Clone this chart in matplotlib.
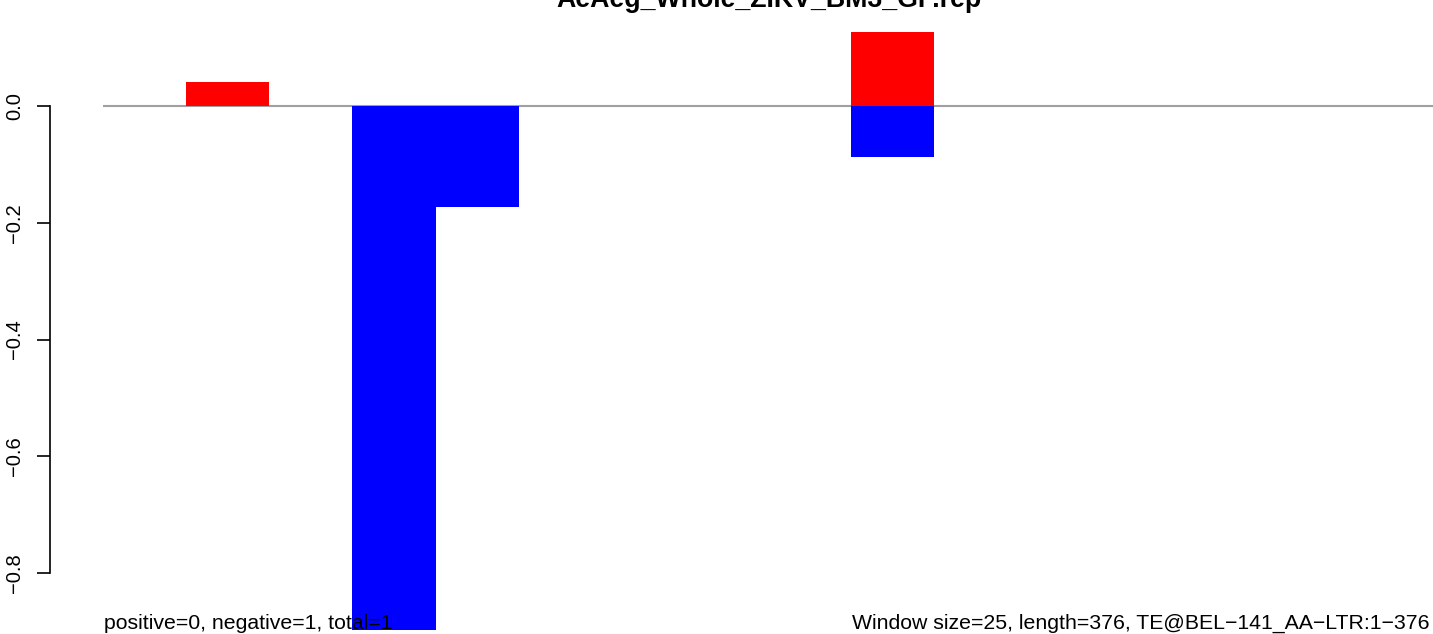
import matplotlib
matplotlib.use("Agg")
import matplotlib.pyplot as plt

# ---- data ----
window_starts = [25, 75, 100, 225]          # window start positions (window size 25)
pos_values = [0.041, 0.0, 0.0, 0.127]        # positive strand score
neg_values = [0.0, -0.95, -0.173, -0.087]    # negative strand score
window_size = 25
seq_extent = 400
yticks = [-0.8, -0.6, -0.4, -0.2, 0.0]
title = "AeAeg_Whole_ZIKV_BM3_GP.rep"
left_note = "positive=0, negative=1, total=1"
right_note = "Window size=25, length=376, TE@BEL\u2212141_AA\u2212LTR:1\u2212376"

plt.rcParams["font.family"] = ["Liberation Sans", "DejaVu Sans"]

W, H = 1433, 634
fig = plt.figure(figsize=(W / 100, H / 100), dpi=100)
L, R, T, B = 50, 1433, 20, 630
ax = fig.add_axes([L / W, 1 - B / H, (R - L) / W, (B - T) / H])

xpx = (R - 103) / seq_extent
ax.set_xlim(-(103 - L) / xpx, seq_extent)
ypx = 583.75
ax.set_ylim(-(B - 106) / ypx, (106 - T) / ypx)

ax.hlines(0, 0, seq_extent, color="#a0a0a0", lw=1.5, zorder=1)
ax.bar(window_starts, pos_values, width=window_size, align="edge",
       color="#ff0000", linewidth=0, zorder=2)
ax.bar(window_starts, neg_values, width=window_size, align="edge",
       color="#0000ff", linewidth=0, zorder=2)

for s in ["top", "right", "bottom"]:
    ax.spines[s].set_visible(False)
ax.spines["left"].set_bounds(yticks[0], yticks[-1])
ax.spines["left"].set_linewidth(1.2)
ax.set_xticks([])
ax.set_yticks(yticks)
ax.set_yticklabels([f"{v:.1f}".replace("-", "\u2212") for v in yticks],
                   rotation=90, va="center", fontsize=14.5)
ax.tick_params(axis="y", length=9.5, width=1.2, pad=9)

fig.text(768.5 / W, 1 - 7 / H, title, ha="center", va="baseline",
         fontsize=19.3, fontweight="bold")
fig.text(104 / W, 1 - 629 / H, left_note, ha="left", va="baseline", fontsize=15.3)
fig.text(1430 / W, 1 - 629 / H, right_note, ha="right", va="baseline", fontsize=15.3)

fig.savefig("out.png", dpi=100)
